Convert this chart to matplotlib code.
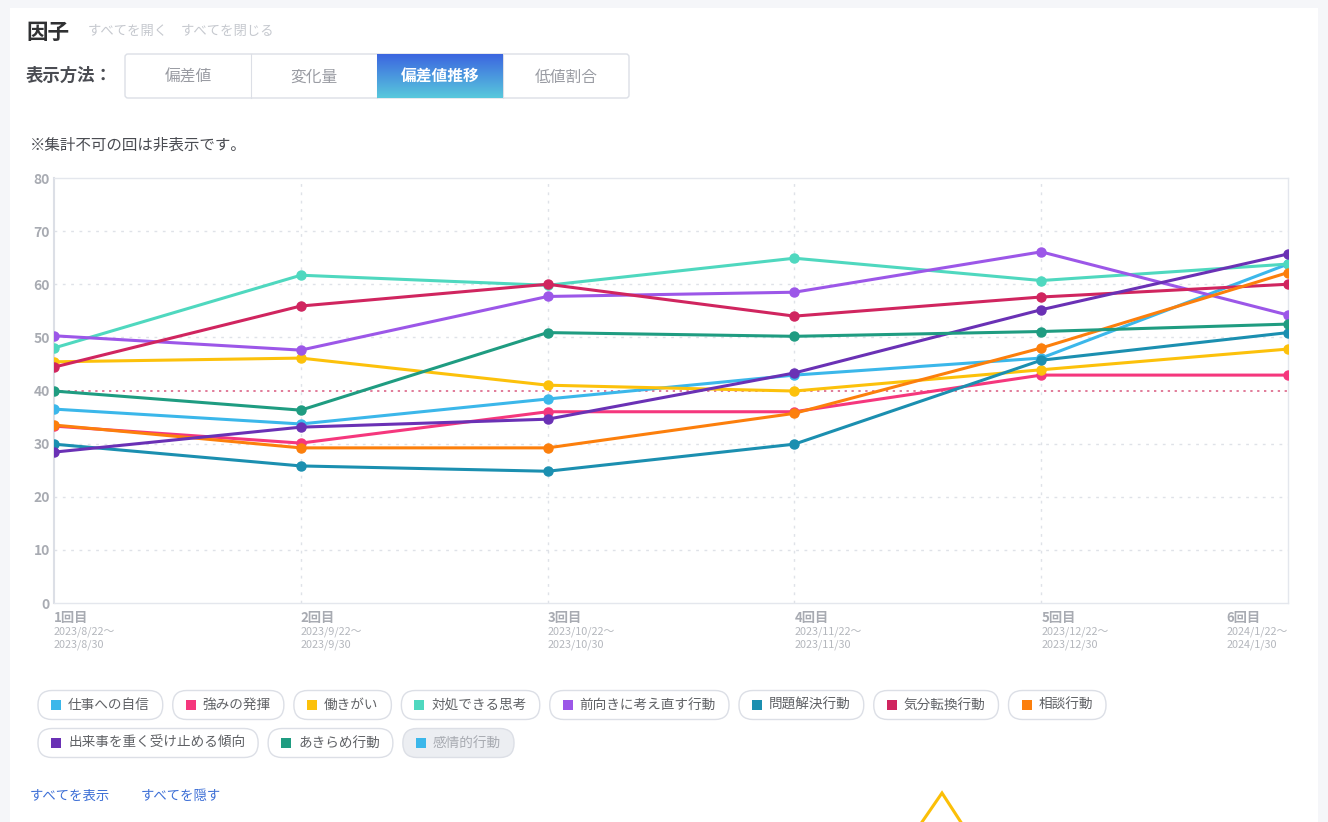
import numpy as np
import matplotlib.pyplot as plt
import matplotlib.transforms as mtransforms
from matplotlib.patches import FancyBboxPatch, Rectangle
from matplotlib.colors import to_rgb

plt.rcParams['font.family'] = ['Noto Sans CJK JP', 'DejaVu Sans']

W, H = 1328, 822

# ---- data ----
rounds = ['1回目', '2回目', '3回目', '4回目', '5回目', '6回目']
period_start = ['2023/8/22～', '2023/9/22～', '2023/10/22～', '2023/11/22～', '2023/12/22～', '2024/1/22～']
period_end = ['2023/8/30', '2023/9/30', '2023/10/30', '2023/11/30', '2023/12/30', '2024/1/30']

shigoto_jishin = [36.5, 33.7, 38.4, 42.9, 46.1, 63.8]
tsuyomi = [33.3, 30.1, 36.0, 36.0, 42.9, 42.9]
hatarakigai = [45.4, 46.1, 41.0, 39.9, 43.9, 47.8]
taisho_shiko = [48.0, 61.7, 59.8, 64.9, 60.7, 63.8]
maemuki = [50.3, 47.6, 57.7, 58.5, 66.1, 54.2]
mondai_kaiketsu = [29.9, 25.8, 24.8, 29.9, 45.7, 50.9]
kibun_tenkan = [44.4, 55.9, 60.0, 54.0, 57.6, 60.0]
sodan = [33.5, 29.2, 29.2, 35.7, 48.0, 62.2]
omoku = [28.4, 33.1, 34.6, 43.3, 55.2, 65.7]
akirame = [39.9, 36.3, 50.9, 50.2, 51.1, 52.5]

factor_names = ['仕事への自信', '強みの発揮', '働きがい', '対処できる思考', '前向きに考え直す行動',
                '問題解決行動', '気分転換行動', '相談行動', '出来事を重く受け止める傾向',
                'あきらめ行動', '感情的行動']
factor_values = [shigoto_jishin, tsuyomi, hatarakigai, taisho_shiko, maemuki, mondai_kaiketsu,
                 kibun_tenkan, sodan, omoku, akirame, None]
factor_colors = ['#3bb7ea', '#f5377d', '#fcc10b', '#4fd8bf', '#9c57e8', '#1b8fb0',
                 '#d0255f', '#fc7f0c', '#6a31b5', '#1f9c81', '#3bb7ea']

threshold = 40
display_modes = ['偏差値', '変化量', '偏差値推移', '低値割合']
active_mode = 2

fig = plt.figure(figsize=(W / 100, H / 100), dpi=100, facecolor='#f5f6f9')
renderer = fig.canvas.get_renderer()

# background/UI layer in pixel coordinates
bg = fig.add_axes([0, 0, 1, 1], zorder=0)
bg.set_xlim(0, W)
bg.set_ylim(H, 0)
bg.axis('off')
bg.add_patch(Rectangle((10, 8), 1308, 830, facecolor='white', edgecolor='none'))

bg.text(26, 32, '因子', fontsize=15.5, fontweight='bold', color='#303133', va='center')
bg.text(88, 31, 'すべてを開く', fontsize=9.6, color='#c6c9cf', va='center')
bg.text(181, 31, 'すべてを閉じる', fontsize=9.6, color='#c6c9cf', va='center')
bg.text(26, 76, '表示方法：', fontsize=12.5, fontweight='bold', color='#4a4c52', va='center')

# segmented buttons
bx0, bw, by0, by1 = 125, 126, 54, 98
bg.add_patch(FancyBboxPatch((bx0, by0), bw * 4, by1 - by0, boxstyle='round,pad=0,rounding_size=3',
                            facecolor='white', edgecolor='#dcdfe6', lw=1))
c1, c2 = np.array(to_rgb('#3c66e0')), np.array(to_rgb('#58c8dc'))
grad = np.linspace(0, 1, 50)[:, None, None] * (c2 - c1) + c1
grad = np.repeat(grad, 2, axis=1)
for i, mode in enumerate(display_modes):
    bx = bx0 + i * bw
    if i > 0:
        bg.plot([bx, bx], [by0, by1], color='#dcdfe6', lw=0.8)
    if i == active_mode:
        bg.imshow(grad, extent=(bx, bx + bw, by1, by0), aspect='auto', zorder=3)
        bg.text(bx + bw / 2, 77, mode, fontsize=11.3, fontweight='bold', color='white',
                ha='center', va='center', zorder=4)
    else:
        bg.text(bx + bw / 2, 77, mode, fontsize=11.3, color='#9a9ca3', ha='center', va='center')
bg.set_xlim(0, W)
bg.set_ylim(H, 0)

bg.text(30, 145, '※集計不可の回は非表示です。', fontsize=11.2, color='#4a4c52', va='center')

# ---- chart ----
ax = fig.add_axes([54 / W, 1 - 603 / H, (1288 - 54) / W, (603 - 178) / H], zorder=1)
x = np.arange(len(rounds))
for name, vals, col in zip(factor_names, factor_values, factor_colors):
    if vals is None:
        continue
    ax.plot(x, vals, color=col, lw=2.2, marker='o', ms=6.5, solid_capstyle='round', zorder=3)

ax.axhline(threshold, color='#d9577d', lw=1.1, ls=(0, (1.5, 3)), zorder=2)
ax.set_xlim(0, len(rounds) - 1)
ax.set_ylim(0, 80)
ax.set_yticks(range(0, 81, 10))
for yv in range(10, 80, 10):
    if yv != threshold:
        ax.axhline(yv, color='#dfe2e8', lw=1, ls=(0, (2, 4)), zorder=1)
for xv in x[1:-1]:
    ax.axvline(xv, color='#dfe2e8', lw=1, ls=(0, (2, 4)), zorder=1)
ax.set_xticks([])
ax.tick_params(axis='y', length=0, pad=3, labelsize=10, labelcolor='#a8abb2')
for lbl in ax.get_yticklabels():
    lbl.set_fontweight('bold')
for s in ax.spines.values():
    s.set_color('#e4e7ed')
    s.set_linewidth(1)
ax.spines['left'].set_color('#dcdfe6')
ax.spines['left'].set_linewidth(1.5)

tr = ax.get_xaxis_transform()
for i, (r, ps, pe) in enumerate(zip(rounds, period_start, period_end)):
    t_tr = tr
    if i == len(rounds) - 1:
        probe = fig.text(0, 0, ps, fontsize=7.8)
        pw = probe.get_window_extent(renderer=renderer).width
        probe.remove()
        t_tr = mtransforms.offset_copy(tr, fig=fig, x=-pw, units='dots')
    ax.text(x[i], -0.035, r, transform=t_tr, ha='left', va='center', fontsize=9.5,
            fontweight='bold', color='#a8abb2')
    ax.text(x[i], -0.068, ps, transform=t_tr, ha='left', va='center', fontsize=7.8, color='#b4b7bd')
    ax.text(x[i], -0.099, pe, transform=t_tr, ha='left', va='center', fontsize=7.8, color='#b4b7bd')

# ---- legend chips ----
cx, cy = 38, 705
chip_h = 29
for name, vals, col in zip(factor_names, factor_values, factor_colors):
    hidden = vals is None
    t = bg.text(0, 0, name, fontsize=9.8, color='#a8abb2' if hidden else '#606266', va='center', zorder=4)
    tw = t.get_window_extent(renderer=renderer).width
    w = 30 + tw + 13
    if cx + w > 1290:
        cx = 38
        cy += 38
    bg.add_patch(FancyBboxPatch((cx, cy - chip_h / 2), w, chip_h,
                                boxstyle='round,pad=0,rounding_size=14',
                                facecolor='#eceef2' if hidden else 'white',
                                edgecolor='#dcdfe6', lw=1, zorder=3))
    bg.add_patch(Rectangle((cx + 13, cy - 5), 10, 10, facecolor=col, edgecolor='none', zorder=4))
    t.set_position((cx + 30, cy))
    cx += w + 10

bg.text(30, 796, 'すべてを表示', fontsize=9.6, color='#3d6fd6', va='center')
bg.text(141, 796, 'すべてを隠す', fontsize=9.6, color='#3d6fd6', va='center')

# yellow marker at the bottom
bg.plot([916.5, 942, 966], [830, 793, 830], color='#fbbf07', lw=2.2, solid_joinstyle='miter')

fig.savefig('out.png', dpi=100, facecolor=fig.get_facecolor())
